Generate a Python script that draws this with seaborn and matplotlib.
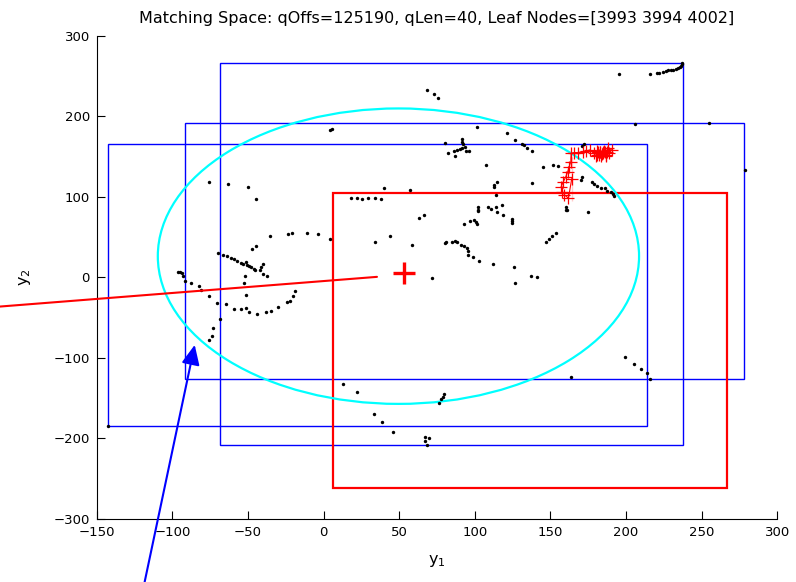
import matplotlib
matplotlib.use("Agg")
import matplotlib.pyplot as plt
from matplotlib.patches import Rectangle, Ellipse
import seaborn as sns
import pandas as pd

# ---------------- data ----------------
title_text = "Matching Space: qOffs=125190, qLen=40, Leaf Nodes=[3993 3994 4002]"
x_ticks = [-150, -100, -50, 0, 50, 100, 150, 200, 250, 300]
y_ticks = [-300, -200, -100, 0, 100, 200, 300]

# leaf-node bounding boxes (x0, y0, x1, y1)
blue_x0 = [-142.7, -91.4, -68.5]
blue_y0 = [-184.3, -126.0, -208.0]
blue_x1 = [213.9, 278.2, 237.5]
blue_y1 = [166.0, 192.0, 266.6]

red_x0, red_y0, red_x1, red_y1 = 6.2, -261.7, 266.6, 105.1

ell_cx, ell_cy, ell_w, ell_h = 49.5, 26.1, 318.2, 367.0

query_x, query_y = 53.3, 5.3

line_x = [-260.0, 35.3]
line_y = [-43.3, 0.4]

arrow_start = (-118.3, -378.5)
arrow_tip = (-85.2, -84.1)

dots_x = [-76.0, -63.4, -50.2, -44.9, -35.7, -23.3, -20.7, -11.0, -3.7, 4.2,
          -47.3, -44.7, -70.0, -66.7, -63.8, -61.2, -59.0, -57.0, -54.8, -53.3,
          -51.5, -50.6, -49.1, -47.8, -46.3, -45.1, -40.3, -41.2, -41.8, -39.8,
          -37.4, -51.7, -52.4, -96.2, -94.9, -93.6, -93.2, -91.4, -87.4, -82.6,
          -81.0, -76.0, -70.4, -64.8, -59.2, -54.8, -51.1, -49.6, -43.8, -38.1,
          -34.8, -30.1, -24.4, -22.5, -20.5, -18.9, -51.1, -68.5, -73.1, -73.5,
          -75.7, -142.7, 12.6, 21.8, 33.3, 38.6, 45.9, 67.2, 69.6, 67.2,
          68.1, 76.0, 77.6, 78.9, 79.3, 163.5, 199.4, 205.5, 210.1, 213.9,
          216.1, 68.1, 72.7, 75.6, 4.4, 5.7, 101.4, 121.6, 126.9, 131.3,
          132.6, 134.4, 138.1, 80.0, 91.5, 91.5, 92.5, 93.2, 91.7, 89.9,
          88.2, 86.2, 82.6, 87.0, 94.5, 96.1, 107.7, 114.8, 113.0, 113.0,
          114.1, 39.9, 57.1, 18.3, 22.1, 25.1, 29.7, 34.0, 38.3, 66.3,
          62.8, 43.6, 34.2, 58.6, 80.0, 81.1, 85.2, 87.0, 88.3, 90.8,
          92.8, 94.8, 95.4, 95.4, 99.1, 102.9, 112.1, 125.8, 72.0, 92.8,
          96.5, 99.6, 100.7, 101.6, 101.8, 102.0, 102.4, 108.4, 110.6, 113.9,
          114.8, 117.9, 118.7, 124.7, 124.5, 124.7, 126.7, 137.1, 140.8, 195.6,
          215.7, 220.3, 221.6, 224.7, 226.3, 228.0, 229.6, 231.3, 233.1, 234.6,
          235.7, 236.4, 236.8, 237.2, 205.8, 171.1, 172.3, 145.0, 151.6, 154.9,
          137.9, 171.1, 170.3, 177.8, 178.9, 180.9, 183.7, 186.3, 187.3, 190.1,
          191.2, 192.1, 160.4, 160.2, 161.0, 175.1, 153.6, 151.3, 148.9, 147.0,
          255.1, 278.5]
dots_y = [118.0, 115.9, 112.5, 96.9, 51.3, 54.2, 55.4, 55.0, 53.4, 47.9,
          34.8, 38.9, 30.6, 28.1, 26.5, 23.6, 22.4, 20.6, 18.1, 16.9,
          19.0, 15.3, 13.7, 12.4, 10.3, 9.1, 16.9, 12.4, 9.1, 4.5,
          1.6, 1.6, -6.7, 6.2, 7.0, 5.7, 1.6, -4.2, -7.1, -10.4,
          -15.4, -23.6, -31.6, -33.5, -39.8, -39.8, -37.8, -43.5, -45.6, -42.7,
          -42.2, -37.3, -31.1, -29.1, -23.2, -17.4, -22.0, -51.8, -62.6, -72.5,
          -78.3, -184.3, -132.9, -142.9, -169.8, -179.4, -192.5, -198.8, -199.6, -203.3,
          -207.9, -156.5, -150.8, -148.7, -144.6, -124.2, -99.4, -107.3, -113.5, -118.5,
          -126.0, 232.3, 228.1, 222.7, 183.0, 183.8, 186.7, 179.6, 170.9, 165.2,
          164.0, 160.6, 157.3, 166.5, 172.2, 168.4, 165.6, 162.2, 160.2, 159.0,
          157.8, 156.9, 154.8, 150.7, 156.5, 156.5, 139.5, 118.4, 114.7, 112.2,
          102.2, 111.3, 108.1, 98.1, 98.1, 97.6, 98.5, 98.1, 97.6, 77.4,
          73.3, 50.9, 43.8, 40.1, 42.2, 44.2, 43.8, 45.5, 43.8, 40.5,
          38.9, 36.8, 32.7, 28.1, 25.6, 20.2, 16.5, 13.2, -1.2, 65.8,
          69.6, 71.6, 68.3, 66.2, 87.7, 83.6, 82.0, 87.3, 84.5, 87.3,
          81.5, 89.4, 77.0, 72.0, 69.6, 67.5, -6.7, 1.6, 0.4, 252.2,
          252.5, 254.2, 253.8, 255.4, 255.9, 257.1, 257.5, 257.9, 258.8, 259.6,
          260.9, 262.5, 264.6, 266.6, 190.4, 163.1, 166.0, 136.6, 139.1, 138.3,
          117.5, 125.0, 120.5, 118.4, 115.5, 113.4, 110.6, 110.6, 107.2, 106.3,
          103.1, 100.6, 87.3, 84.0, 83.2, 80.7, 55.4, 51.7, 47.9, 44.2,
          191.7, 132.9]

# query trajectory (qLen = 40)
traj_x = [164.1, 161.9, 159.3, 157.9, 157.1, 158.6, 160.2, 161.5, 162.4, 163.5,
          164.1, 163.7, 165.7, 168.5, 171.4, 173.6, 176.2, 178.5, 180.0, 181.5,
          182.0, 183.0, 183.5, 184.5, 185.0, 186.0, 186.5, 187.5, 188.0, 190.5,
          188.5, 187.0, 185.5, 184.0, 182.5, 181.0, 180.5, 183.0, 185.0, 186.0]
traj_y = [95.2, 98.1, 102.2, 106.3, 112.5, 118.8, 125.0, 131.2, 137.4, 143.6,
          149.8, 154.0, 154.8, 154.8, 156.0, 156.9, 158.1, 154.0, 151.0, 156.0,
          152.0, 157.0, 150.0, 155.0, 153.0, 158.0, 151.0, 156.0, 161.0, 158.0,
          154.0, 152.0, 157.0, 153.0, 155.0, 152.0, 157.0, 154.0, 156.0, 154.0]

# ---------------- plotting ----------------
sns.set_theme(style="white")
plt.rcParams["font.family"] = ["DejaVu Sans"]
plt.rcParams["mathtext.fontset"] = "dejavusans"

fig = plt.figure(figsize=(7.96, 5.82), dpi=100)
ax = fig.add_axes([0.1215, 0.1088, 0.855, 0.8299])

for x0, y0, x1, y1 in zip(blue_x0, blue_y0, blue_x1, blue_y1):
    ax.add_patch(Rectangle((x0, y0), x1 - x0, y1 - y0, fill=False,
                           edgecolor="#0000ff", linewidth=1.0, zorder=2))

ax.add_patch(Rectangle((red_x0, red_y0), red_x1 - red_x0, red_y1 - red_y0,
                       fill=False, edgecolor="#ff0000", linewidth=1.6, zorder=2))

ax.add_patch(Ellipse((ell_cx, ell_cy), ell_w, ell_h, fill=False,
                     edgecolor="#00ffff", linewidth=1.6, zorder=3))

dots = pd.DataFrame({"x": dots_x, "y": dots_y})
sns.scatterplot(data=dots, x="x", y="y", ax=ax, color="black", s=6,
                linewidth=0, marker="o", zorder=4, legend=False)

traj = pd.DataFrame({"x": traj_x, "y": traj_y})
sns.lineplot(data=traj, x="x", y="y", sort=False, ax=ax, color="#ff0000",
             linewidth=0.8, marker="+", markersize=9, markeredgewidth=0.9,
             markeredgecolor="#ff0000", zorder=5, legend=False)

ax.plot([query_x], [query_y], marker="+", color="#ff0000", markersize=16,
        markeredgewidth=2.4, linestyle="none", zorder=6)

ax.plot(line_x, line_y, color="#ff0000", linewidth=1.5, clip_on=False, zorder=5)

ax.annotate("", xy=arrow_tip, xytext=arrow_start, xycoords="data",
            textcoords="data", annotation_clip=False,
            arrowprops=dict(arrowstyle="-|>,head_length=1.2,head_width=0.55",
                            color="#0000ff", linewidth=1.5, shrinkA=0,
                            shrinkB=0, mutation_scale=10), zorder=6)

ax.set_xlim(-150, 300)
ax.set_ylim(-300, 300)
ax.set_xticks(x_ticks)
ax.set_yticks(y_ticks)
ax.grid(False)
sns.despine(ax=ax, top=True, right=True)
for s in ["left", "bottom"]:
    ax.spines[s].set_color("black")
    ax.spines[s].set_linewidth(0.8)
ax.tick_params(direction="in", length=6, width=0.8, colors="black",
               labelsize=9.5, pad=5, left=True, bottom=True)

ax.set_title(title_text, fontsize=11.5, pad=9, color="black")
ax.set_xlabel(r"$\mathregular{y_1}$", fontsize=11.5, labelpad=10, color="black")
ax.set_ylabel(r"$\mathregular{y_2}$", fontsize=11.5, labelpad=15, color="black")

fig.savefig("out.png", dpi=100)
